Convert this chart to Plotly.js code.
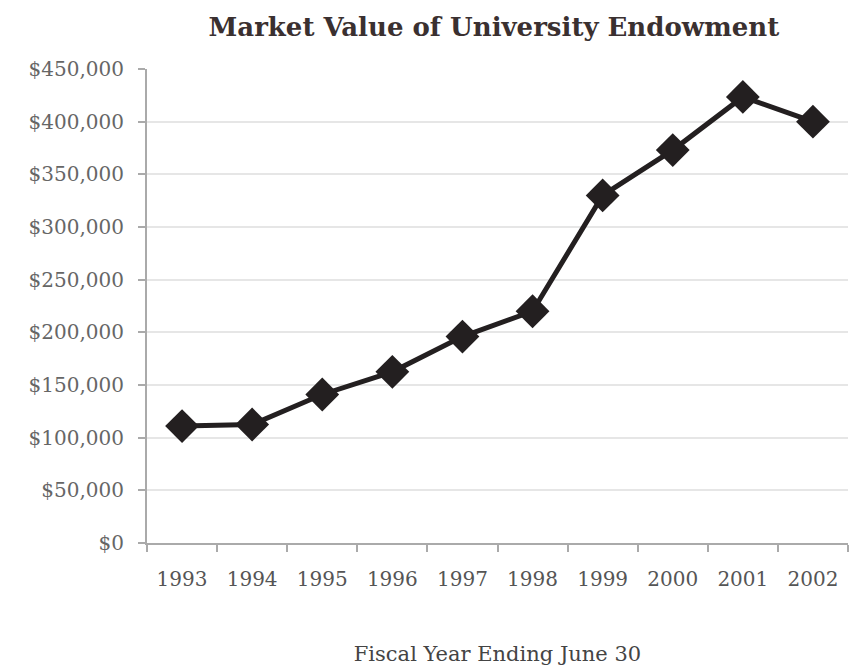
<!DOCTYPE html>
<html>
<head>
<meta charset="utf-8">
<script src="https://cdn.plot.ly/plotly-3.0.1.min.js"></script>
<style>html,body{margin:0;padding:0;background:#fff}#chart{width:850px;height:667px}</style>
</head>
<body>
<div id="chart"></div>
<script>
const years = ["1993","1994","1995","1996","1997","1998","1999","2000","2001","2002"];
const endowment = [111000, 112500, 141000, 162500, 196000, 220000, 330000, 373000, 423500, 400000];
const yTickVals = [0, 50000, 100000, 150000, 200000, 250000, 300000, 350000, 400000, 450000];
const yTickText = ["$0","$50,000","$100,000","$150,000","$200,000","$250,000","$300,000","$350,000","$400,000","$450,000"];

const FONT = "DejaVu Serif, serif";

const trace = {
  x: years,
  y: endowment,
  type: "scatter",
  mode: "lines+markers",
  line: {color: "#231f20", width: 5},
  marker: {symbol: "diamond", size: 26, color: "#231f20"},
  cliponaxis: false,
  hoverinfo: "skip"
};

const layout = {
  width: 850, height: 667,
  paper_bgcolor: "#fff", plot_bgcolor: "#fff",
  margin: {l: 147, r: 2, t: 69, b: 124},
  showlegend: false,
  title: {
    text: "<b>Market Value of University Endowment</b>",
    x: 0.581, xanchor: "center", y: 0.96, yanchor: "middle",
    font: {family: FONT, size: 26, color: "#3a3030"}
  },
  xaxis: {
    type: "category",
    range: [-0.5, 9.5],
    tickson: "boundaries",
    ticks: "outside", ticklen: 7, tickcolor: "#aaa", tickwidth: 2,
    showline: true, linecolor: "#aaa", linewidth: 2,
    showgrid: false, zeroline: false,
    ticklabelstandoff: 17,
    tickfont: {family: FONT, size: 20, color: "#555"},
    title: {text: "Fiscal Year Ending June 30", standoff: 56,
            font: {family: FONT, size: 21, color: "#444"}}
  },
  yaxis: {
    range: [0, 450000],
    tickvals: yTickVals, ticktext: yTickText,
    ticks: "outside", ticklen: 7, tickcolor: "#aaa", tickwidth: 2,
    showline: true, linecolor: "#aaa", linewidth: 2,
    showgrid: true, gridcolor: "#e6e6e6", gridwidth: 2,
    zeroline: false,
    ticklabelstandoff: 10,
    tickfont: {family: FONT, size: 20, color: "#666"}
  }
};

Plotly.newPlot("chart", [trace], layout, {displayModeBar: false, staticPlot: true});
</script>
</body>
</html>
